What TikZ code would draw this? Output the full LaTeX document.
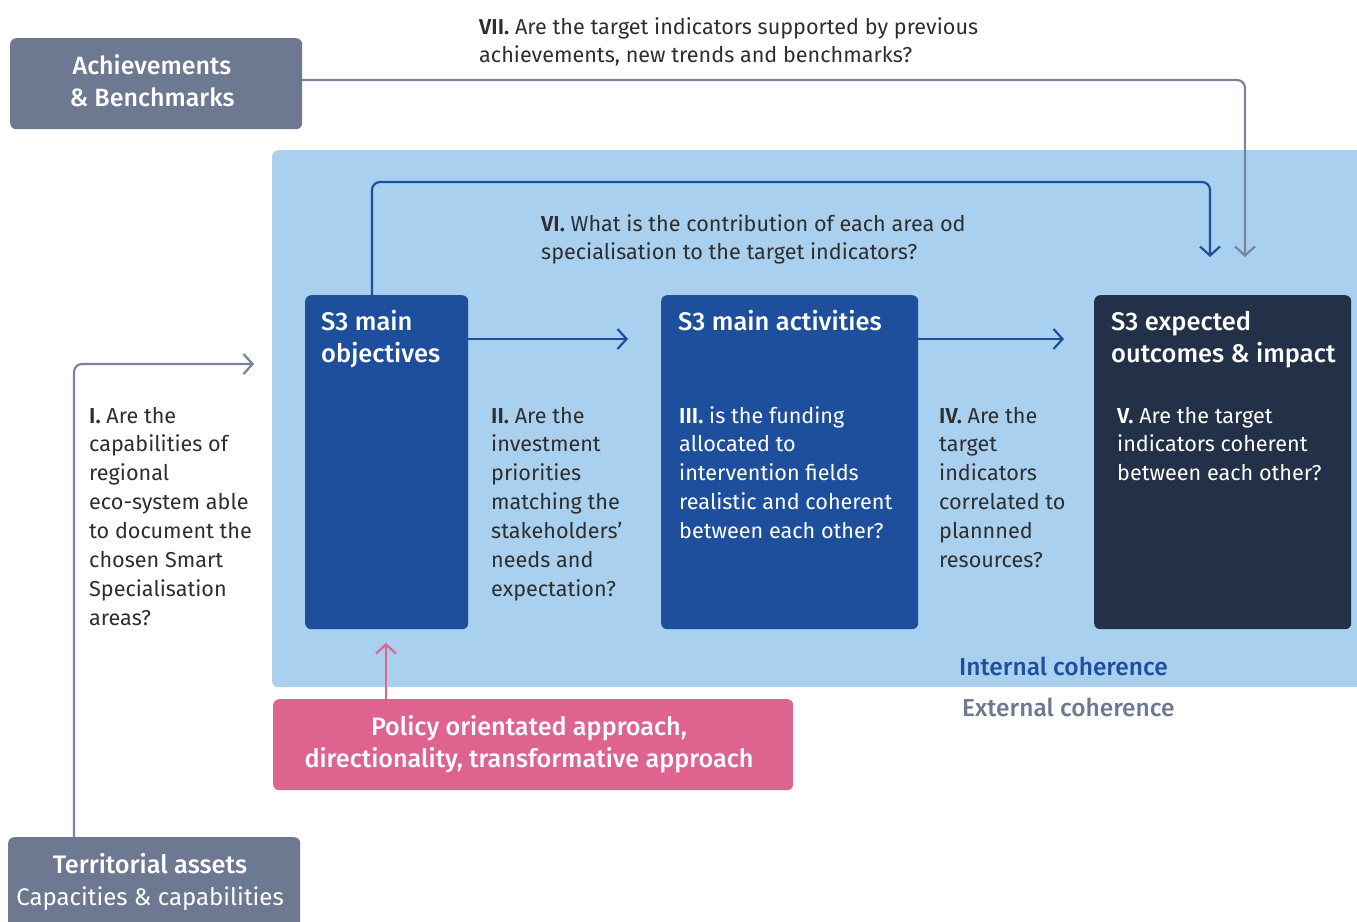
\documentclass[tikz,border=0pt]{standalone}
\usepackage{fontspec}
\setmainfont{Fira Sans}
\newfontfamily\medfont{Fira Sans Medium}
\newfontfamily\sbfont{Fira Sans SemiBold}
\usetikzlibrary{arrows.meta}
\definecolor{grayblue}{HTML}{6D7891}
\definecolor{lightbg}{HTML}{A9D0EE}
\definecolor{mainblue}{HTML}{1E4F9C}
\definecolor{navy}{HTML}{233148}
\definecolor{pinkc}{HTML}{DE648F}
\definecolor{arrgray}{HTML}{7A8399}
\definecolor{txt}{HTML}{2E2E2E}
\newcommand\mltext[1]{\begin{tabular}[t]{@{}l@{}}#1\end{tabular}}
\newcommand\bodyfont{\fontsize{21.6}{28.9}\selectfont}
\newcommand\qn[1]{{\sbfont #1}}
\tikzset{
  boxshape/.style={anchor=north west, inner sep=0, rounded corners=6pt, draw=none},
  titletext/.style={anchor=base west, inner sep=0, text=white, font=\medfont\fontsize{25.5}{32}\selectfont},
  bodytext/.style={anchor=base west, inner sep=0, font=\bodyfont},
  openarrow/.style={line width=2.2pt, rounded corners=8pt, -{Straight Barb[length=9pt,width=20pt,line width=2.2pt]}},
}
\begin{document}
\begin{tikzpicture}[x=1pt,y=-1pt]
\useasboundingbox (0,0) rectangle (1357,921);
% background
\node[boxshape, fill=lightbg, minimum width=1095pt, minimum height=537pt] (bg) at (272,150) {};
% boxes
\node[boxshape, fill=grayblue, minimum width=292pt, minimum height=91pt] (ach) at (10,38) {};
\node[boxshape, fill=grayblue, minimum width=292pt, minimum height=100pt] (terr) at (8,837) {};
\node[boxshape, fill=mainblue, minimum width=163pt, minimum height=334pt] (obj) at (305,295) {};
\node[boxshape, fill=mainblue, minimum width=257pt, minimum height=334pt] (act) at (661,295) {};
\node[boxshape, fill=navy, minimum width=257pt, minimum height=334pt] (out) at (1094,295) {};
\node[boxshape, fill=pinkc, minimum width=520pt, minimum height=91pt] (pol) at (273,699) {};
% box texts
\node[anchor=base, inner sep=0, text=white, font=\medfont\fontsize{25}{32}\selectfont] (achtxt) at (152,74) {\begin{tabular}[t]{@{}c@{}}Achievements\\ \& Benchmarks\end{tabular}};
\node[anchor=base, inner sep=0, text=white, font=\fontsize{24}{32.5}\selectfont] (terrtxt) at (150,873) {\begin{tabular}[t]{@{}c@{}}{\medfont\fontsize{25.3}{32.5}\selectfont Territorial assets}\\ Capacities \& capabilities\end{tabular}};
\node[titletext] (objtxt) at (321,330) {\mltext{S3 main\\ objectives}};
\node[titletext] (acttxt) at (678,330) {S3 main activities};
\node[titletext] (outtxt) at (1111,330) {\mltext{S3 expected\\ outcomes \& impact}};
\node[anchor=base, inner sep=0, text=white, font=\medfont\fontsize{25.2}{32}\selectfont] (poltxt) at (529,735) {\begin{tabular}[t]{@{}c@{}}Policy orientated approach,\\ directionality, transformative approach\end{tabular}};
% questions
\node[bodytext, text=txt] (q7) at (479,34) {\mltext{\qn{VII.} Are the target indicators supported by previous\\ achievements, new trends and benchmarks?}};
\node[bodytext, text=txt] (q6) at (541,231) {\mltext{\qn{VI.} What is the contribution of each area od\\ specialisation to the target indicators?}};
\node[bodytext, text=txt] (q1) at (89,423) {\mltext{\qn{I.} Are the\\ capabilities of\\ regional\\ eco-system able\\ to document the\\ chosen Smart\\ Specialisation\\ areas?}};
\node[bodytext, text=txt] (q2) at (491,423) {\mltext{\qn{II.} Are the\\ investment\\ priorities\\ matching the\\ stakeholders’\\ needs and\\ expectation?}};
\node[bodytext, text=white] (q3) at (679,423) {\mltext{\qn{III.} is the funding\\ allocated to\\ intervention fields\\ realistic and coherent\\ between each other?}};
\node[bodytext, text=txt] (q4) at (939,423) {\mltext{\qn{IV.} Are the\\ target\\ indicators\\ correlated to\\ plannned\\ resources?}};
\node[bodytext, text=white] (q5) at (1117,423) {\mltext{\qn{V.} Are the target\\ indicators coherent\\ between each other?}};
% coherence labels
\node[anchor=base west, inner sep=0, text=mainblue, font=\medfont\fontsize{24.5}{28}\selectfont] (intc) at (959,675) {Internal coherence};
\node[anchor=base west, inner sep=0, text=grayblue, font=\medfont\fontsize{24.5}{28}\selectfont] (extc) at (962,716) {External coherence};
% arrow end coordinates
\coordinate (achout) at (302,80);
\coordinate (e7) at (1245,257);
\coordinate (objtop) at (372,295);
\coordinate (e6) at (1210,257);
\coordinate (objr) at (468,339);
\coordinate (e2) at (628,339);
\coordinate (actr) at (918,339);
\coordinate (e4) at (1064,339);
\coordinate (terrtop) at (74,837);
\coordinate (e1) at (254,364);
\coordinate (poltop) at (386,699);
\coordinate (ep) at (386,643);
% connectors
\draw[openarrow, draw=arrgray] (achout) -- (e7 |- achout) -- (e7);
\draw[openarrow, draw=mainblue] (objtop) -- (372,182) -- (1210,182) -- (e6);
\draw[openarrow, draw=mainblue] (objr) -- (e2);
\draw[openarrow, draw=mainblue] (actr) -- (e4);
\draw[openarrow, draw=arrgray] (terrtop) -- (terrtop |- e1) -- (e1);
\draw[openarrow, draw=pinkc] (poltop) -- (ep);
\end{tikzpicture}
\end{document}
